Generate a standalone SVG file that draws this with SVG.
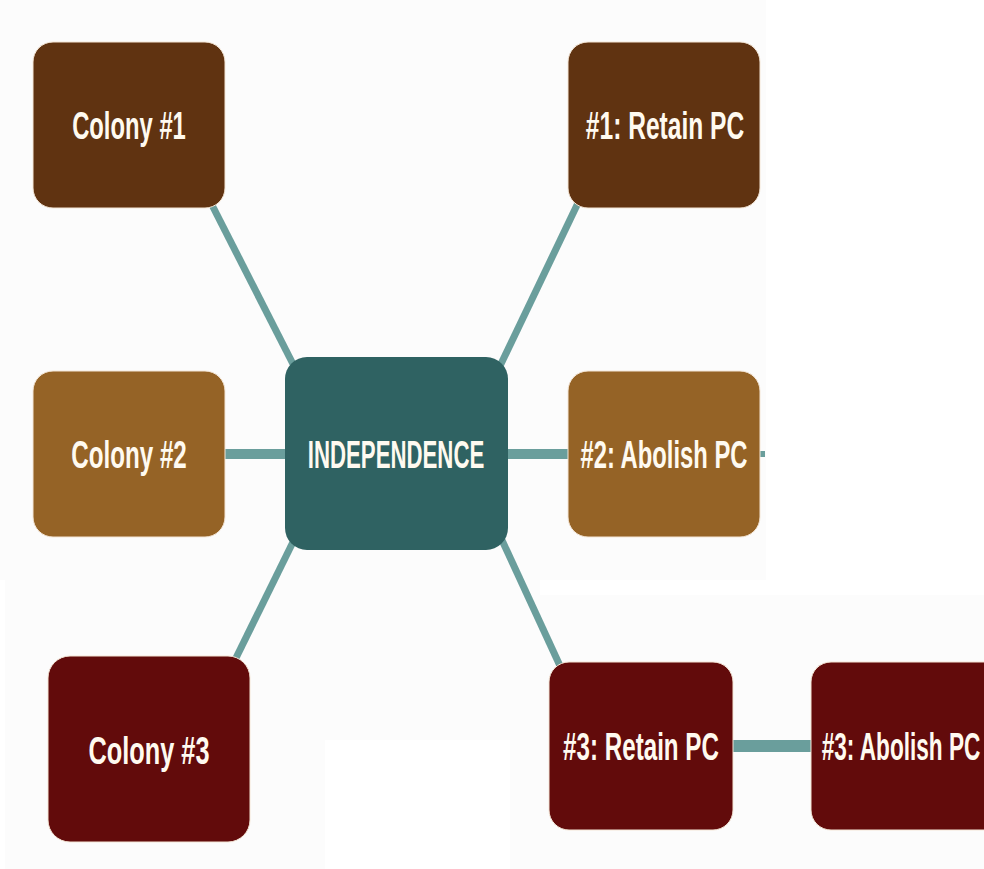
<svg xmlns="http://www.w3.org/2000/svg" width="984" height="869" viewBox="0 0 984 869">
  <style>
    .box { stroke: #f4e6d6; stroke-width: 1; }
    .lbl { font-family: "Liberation Sans", Arial, sans-serif; font-weight: bold; font-size: 39px; fill: #fffaf0; text-anchor: middle; }
    .con { stroke: #6a9e9c; fill: none; }
  </style>
  <rect x="0" y="0" width="984" height="869" fill="#ffffff"/>
  <rect x="0" y="0" width="766" height="580" fill="#fcfcfc"/>
  <rect x="5" y="580" width="320" height="289" fill="#fcfcfc"/>
  <rect x="325" y="580" width="215" height="160" fill="#fcfcfc"/>
  <rect x="510" y="595" width="474" height="274" fill="#fcfcfc"/>

  <g id="connectors">
    <line class="con" x1="212" y1="205" x2="294" y2="366" stroke-width="7"/>
    <line class="con" x1="578" y1="203" x2="500" y2="366" stroke-width="7"/>
    <line class="con" x1="225" y1="454" x2="287" y2="454" stroke-width="10"/>
    <line class="con" x1="506" y1="454" x2="570" y2="454" stroke-width="10"/>
    <line class="con" x1="759" y1="454" x2="765" y2="454" stroke-width="6"/>
    <line class="con" x1="293" y1="542" x2="234" y2="662" stroke-width="7"/>
    <line class="con" x1="501" y1="538" x2="561" y2="668" stroke-width="7"/>
    <line class="con" x1="731" y1="746" x2="813" y2="746" stroke-width="12"/>
  </g>

  <g id="colony1">
    <rect class="box" x="33" y="42" width="192" height="166" rx="20" fill="#603311"/>
    <text class="lbl" transform="translate(129,139) scale(0.61,1)">Colony #1</text>
  </g>
  <g id="retain1">
    <rect class="box" x="568" y="42" width="192" height="166" rx="20" fill="#603311"/>
    <text class="lbl" transform="translate(665,139) scale(0.63,1)">#1: Retain PC</text>
  </g>
  <g id="colony2">
    <rect class="box" x="33" y="371" width="192" height="166" rx="20" fill="#956326"/>
    <text class="lbl" transform="translate(129,468) scale(0.62,1)">Colony #2</text>
  </g>
  <g id="independence">
    <rect x="285" y="357" width="223" height="193" rx="22" fill="#2f6262"/>
    <text class="lbl" transform="translate(396,468) scale(0.57,1)">INDEPENDENCE</text>
  </g>
  <g id="abolish2">
    <rect class="box" x="568" y="371" width="192" height="166" rx="20" fill="#956326"/>
    <text class="lbl" transform="translate(664,468) scale(0.61,1)">#2: Abolish PC</text>
  </g>
  <g id="colony3">
    <rect class="box" x="48" y="656" width="202" height="186" rx="22" fill="#620b0b"/>
    <text class="lbl" transform="translate(149,764) scale(0.65,1)">Colony #3</text>
  </g>
  <g id="retain3">
    <rect class="box" x="549" y="662" width="184" height="168" rx="20" fill="#620b0b"/>
    <text class="lbl" transform="translate(641,760) scale(0.62,1)">#3: Retain PC</text>
  </g>
  <g id="abolish3">
    <rect class="box" x="811" y="662" width="200" height="168" rx="20" fill="#620b0b"/>
    <text class="lbl" transform="translate(901,760) scale(0.58,1)">#3: Abolish PC</text>
  </g>
</svg>
